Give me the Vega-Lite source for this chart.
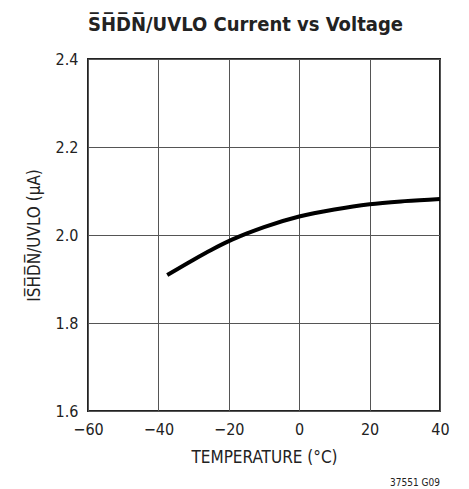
{
  "$schema": "https://vega.github.io/schema/vega-lite/v6.json",
  "autosize": "none",
  "width": 352,
  "height": 352,
  "padding": {"left": 88, "top": 59, "right": 29, "bottom": 78},
  "background": "white",
  "config": {
    "font": "DejaVu Sans Condensed, Roboto",
    "view": {"stroke": "#222", "strokeWidth": 2},
    "axis": {
      "grid": true, "gridColor": "#555", "gridWidth": 1, "gridOpacity": 1,
      "ticks": false, "domain": false,
      "labelFont": "DejaVu Sans Condensed, Roboto", "labelFontSize": 16, "labelColor": "#222",
      "titleFont": "DejaVu Sans Condensed, Roboto", "titleFontSize": 17, "titleFontWeight": "normal", "titleColor": "#222"
    }
  },
  "title": {
    "text": "S̅H̅D̅N̅/UVLO Current vs Voltage",
    "font": "DejaVu Sans Condensed, Roboto", "fontSize": 20, "fontWeight": "bold", "color": "#222",
    "anchor": "start", "frame": "group", "offset": 16
  },
  "datasets": {
    "curve": [
      {"temp": -37.5, "current": 1.909},
      {"temp": -30, "current": 1.944},
      {"temp": -25, "current": 1.966},
      {"temp": -20, "current": 1.986},
      {"temp": -15, "current": 2.003},
      {"temp": -10, "current": 2.018},
      {"temp": 0, "current": 2.042},
      {"temp": 10, "current": 2.058},
      {"temp": 20, "current": 2.070},
      {"temp": 30, "current": 2.077},
      {"temp": 40, "current": 2.082}
    ],
    "note": [{"temp": 40, "current": 1.6, "label": "37551 G09"}]
  },
  "layer": [
    {
      "data": {"name": "curve"},
      "mark": {"type": "line", "color": "#000", "strokeWidth": 4, "interpolate": "monotone", "strokeCap": "butt"},
      "encoding": {
        "x": {"field": "temp", "type": "quantitative",
              "scale": {"domain": [-60, 40], "nice": false},
              "axis": {"values": [-60, -40, -20, 0, 20, 40], "title": "TEMPERATURE (°C)", "labelPadding": 10, "titlePadding": 12, "labelFlush": false}},
        "y": {"field": "current", "type": "quantitative",
              "scale": {"domain": [1.6, 2.4], "nice": false, "zero": false},
              "axis": {"values": [1.6, 1.8, 2.0, 2.2, 2.4], "format": ".1f", "title": "IS̅H̅D̅N̅/UVLO (µA)", "labelPadding": 10, "titlePadding": 12}}
      }
    },
    {
      "data": {"name": "note"},
      "mark": {"type": "text", "align": "right", "baseline": "middle", "fontSize": 10, "dy": 72, "color": "#222", "font": "DejaVu Sans Condensed, Roboto"},
      "encoding": {
        "x": {"field": "temp", "type": "quantitative"},
        "y": {"field": "current", "type": "quantitative"},
        "text": {"field": "label"}
      }
    }
  ]
}
